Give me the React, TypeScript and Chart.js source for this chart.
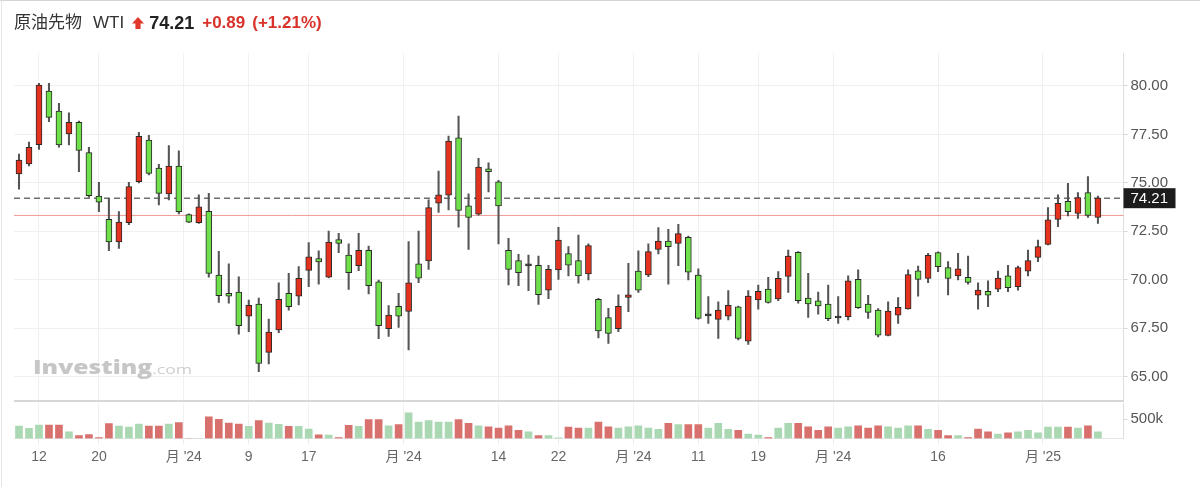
import React, { useEffect, useRef } from "react";
import { Chart, registerables } from "chart.js";

Chart.register(...registerables);

const FONT = '"Liberation Sans", "Noto Sans CJK JP", Arial, sans-serif';

// ---- data (daily WTI candles, oldest first) ----
const opens = [
  75.46, 75.98, 76.97, 79.74, 78.71, 77.52, 78.13, 76.56, 74.32, 73.12,
  71.95, 72.95, 75.06, 77.21, 75.77, 74.43, 75.87, 73.36, 72.95, 73.53,
  70.25, 69.3, 69.37, 68.13, 68.75, 66.26, 67.41, 69.3, 69.16, 70.49,
  71.09, 70.14, 72.07, 71.28, 70.73, 71.52, 69.89, 67.48, 68.63, 68.37,
  70.82, 70.97, 73.95, 74.36, 77.33, 73.81, 73.38, 75.72, 75.05, 71.52,
  70.99, 70.74, 70.75, 69.47, 70.51, 71.35, 70.99, 70.3, 68.99, 68.05,
  67.48, 69.09, 70.45, 70.25, 71.57, 72.0, 71.88, 72.19, 70.25, 68.15,
  67.96, 68.13, 68.61, 66.84, 68.96, 69.52, 69.01, 70.18, 71.42, 69.06,
  68.92, 68.75, 68.03, 68.1, 70.02, 68.75, 68.44, 67.13, 68.18, 68.5,
  70.46, 70.07, 71.4, 70.63, 70.2, 70.13, 69.21, 69.4, 69.52, 70.2,
  69.65, 70.45, 71.16, 71.83, 73.12, 74.05, 73.43, 74.5, 73.22,
];
const highs = [
  76.49, 77.11, 80.14, 80.14, 79.11, 78.62, 78.19, 76.84, 75.03, 74.2,
  73.52, 75.03, 77.61, 77.45, 75.96, 76.92, 76.65, 73.4, 74.39, 74.46,
  71.47, 70.82, 70.16, 68.96, 69.06, 67.98, 69.85, 70.33, 70.68, 71.92,
  71.49, 72.52, 72.4, 71.85, 72.4, 71.74, 69.99, 68.67, 69.3, 71.97,
  72.52, 74.12, 75.61, 77.42, 78.45, 74.43, 76.27, 76.04, 75.13, 72.14,
  71.31, 71.28, 71.23, 70.75, 72.71, 71.71, 72.31, 71.85, 69.05, 68.53,
  69.22, 70.85, 71.5, 71.85, 72.69, 72.6, 72.86, 72.26, 70.56, 69.13,
  68.87, 69.44, 68.65, 69.44, 69.73, 70.13, 70.42, 71.54, 71.45, 70.33,
  69.37, 69.73, 69.13, 70.2, 70.51, 69.2, 68.51, 68.87, 69.08, 70.51,
  70.71, 71.37, 71.44, 70.94, 71.37, 71.23, 69.85, 69.95, 70.45, 70.75,
  70.71, 71.54, 72.05, 73.72, 74.38, 74.98, 74.5, 75.32, 74.32,
];
const lows = [
  74.67, 75.87, 76.73, 78.16, 76.84, 76.96, 75.58, 74.26, 73.52, 71.5,
  71.62, 72.84, 75.0, 75.41, 73.86, 74.12, 73.4, 72.95, 72.91, 70.13,
  68.84, 68.79, 67.2, 67.32, 65.26, 65.66, 67.27, 68.44, 68.7, 69.65,
  69.77, 70.1, 71.4, 69.51, 70.47, 69.27, 66.96, 67.08, 67.55, 66.38,
  69.85, 70.54, 73.48, 73.6, 72.71, 71.57, 73.34, 74.53, 71.85, 69.73,
  69.7, 69.44, 68.73, 69.03, 70.02, 70.2, 69.83, 69.99, 67.0, 66.72,
  67.32, 68.36, 69.35, 70.16, 71.33, 69.77, 70.73, 69.99, 67.97, 67.75,
  66.98, 67.93, 66.9, 66.67, 68.48, 68.79, 68.92, 69.35, 68.79, 68.06,
  68.23, 67.89, 67.75, 67.93, 68.53, 68.01, 67.06, 67.1, 67.75, 68.49,
  69.16, 69.85, 70.42, 69.22, 69.99, 69.78, 68.48, 68.61, 69.39, 69.39,
  69.47, 70.2, 70.93, 71.8, 72.74, 73.29, 73.17, 73.22, 72.91,
];
const closes = [
  76.18, 76.84, 80.05, 78.38, 76.96, 78.13, 76.68, 74.34, 74.01, 71.95,
  72.98, 74.81, 77.4, 75.49, 74.46, 75.87, 73.52, 72.97, 73.77, 70.33,
  69.18, 69.16, 67.63, 68.68, 65.69, 67.31, 68.99, 68.61, 70.08, 71.18,
  70.92, 71.95, 71.88, 70.37, 71.52, 69.7, 67.63, 68.18, 68.13, 69.84,
  70.08, 73.72, 74.38, 77.16, 73.58, 73.22, 75.82, 75.58, 73.81, 70.54,
  70.37, 70.72, 69.23, 70.54, 72.05, 70.75, 70.2, 71.76, 67.36, 67.24,
  68.63, 69.23, 69.46, 71.45, 72.0, 71.71, 72.38, 70.39, 68.01, 68.14,
  68.44, 68.68, 66.98, 69.16, 69.4, 68.84, 70.08, 71.23, 68.92, 68.75,
  68.65, 67.99, 68.04, 69.95, 68.56, 68.32, 67.15, 68.39, 68.58, 70.27,
  70.02, 71.26, 70.68, 70.07, 70.56, 69.87, 69.47, 69.21, 70.09, 69.59,
  70.63, 70.99, 71.71, 73.09, 73.95, 73.52, 74.24, 73.32, 74.21,
];
// volume in thousands of contracts
const volumes = [
  324, 263, 351, 351, 351, 175, 79, 105, 26, 386,
  324, 298, 377, 324, 324, 377, 412, 0, 0, 561,
  500, 403, 377, 316, 465, 403, 368, 316, 316, 246,
  96, 88, 26, 342, 316, 491, 491, 333, 360, 667,
  430, 465, 430, 430, 491, 395, 333, 307, 272, 333,
  210, 175, 79, 79, 18, 298, 272, 272, 430, 307,
  272, 307, 333, 272, 237, 395, 360, 360, 360, 272,
  395, 237, 210, 114, 92, 26, 272, 395, 395, 307,
  210, 307, 272, 307, 333, 272, 333, 307, 272, 333,
  333, 237, 210, 79, 79, 26, 246, 175, 114, 149,
  175, 210, 149, 298, 298, 298, 272, 333, 175,
];

// x-axis tick positions (candle index) and labels
const xTickIdx = [2, 8, 16.5, 23, 29, 38.5, 48, 54, 61.5, 68, 74, 81.5, 92, 102.5];
const xTickLabels = ["12", "20", "月 '24", "9", "17", "月 '24", "14", "22", "月 '24", "11", "19", "月 '24", "16", "月 '25"];
const priceTicks = [65, 67.5, 70, 72.5, 75, 77.5, 80];
const volumeTicks = [500];

const TITLE = "原油先物 WTI";

// ---- layout constants ----
const X_MIN = -0.5;
const X_MAX = 110.56;
const AXIS_W = 76.5;
const UP = "#e5321f";
const DOWN = "#70df4c";
const DOJI = "#333333";
const VOL_UP = "#aad8b2";
const VOL_DOWN = "#d8716d";

const lastClose = closes[closes.length - 1];
const prevClose = closes[closes.length - 2];
const change = lastClose - prevClose;
const changePct = (change / prevClose) * 100;

function bodyColor(i: number) {
  const d = closes[i] - opens[i];
  if (Math.abs(d) < 0.03) return DOJI;
  return d > 0 ? UP : DOWN;
}
function volColor(i: number) {
  if (i === 0) return closes[0] >= opens[0] ? VOL_UP : VOL_DOWN;
  return closes[i] >= closes[i - 1] ? VOL_UP : VOL_DOWN;
}

const zeroPad = (s: any) => {
  s.paddingTop = 0;
  s.paddingBottom = 0;
  s.paddingLeft = 0;
  s.paddingRight = 0;
};

const lastPricePlugin = {
  id: "lastPriceTag",
  afterDraw(chart: any) {
    const y = chart.scales.y.getPixelForValue(lastClose);
    const x0 = chart.chartArea.right;
    const ctx = chart.ctx;
    ctx.save();
    ctx.fillStyle = "#1c1c1c";
    ctx.fillRect(x0, y - 10, 52, 20);
    ctx.fillStyle = "#ffffff";
    ctx.font = `15px ${FONT}`;
    ctx.textBaseline = "middle";
    ctx.textAlign = "left";
    ctx.fillText(lastClose.toFixed(2), x0 + 7, y + 1);
    ctx.restore();
  },
};

export default function App() {
  const priceRef = useRef<HTMLCanvasElement | null>(null);
  const volRef = useRef<HTMLCanvasElement | null>(null);

  useEffect(() => {
    const idx = opens.map((_, i) => i);
    const priceChart = new Chart(priceRef.current as HTMLCanvasElement, {
      type: "bar",
      data: {
        datasets: [
          {
            type: "bar",
            label: "body",
            data: idx.map((i) => ({ x: i, y: [opens[i], closes[i]] })) as any,
            backgroundColor: idx.map(bodyColor),
            borderColor: "#2a2a2a",
            borderWidth: 1,
            borderSkipped: false,
            barThickness: 6,
            grouped: false,
            minBarLength: 2,
            order: 0,
          } as any,
          {
            type: "bar",
            label: "wick",
            data: idx.map((i) => ({ x: i, y: [lows[i], highs[i]] })) as any,
            backgroundColor: "#555555",
            borderWidth: 0,
            barThickness: 1.4,
            grouped: false,
            order: 1,
          } as any,
          {
            type: "line",
            label: "last",
            data: [
              { x: X_MIN, y: lastClose },
              { x: X_MAX, y: lastClose },
            ],
            borderColor: "#6e6e6e",
            borderWidth: 1.5,
            borderDash: [6, 4],
            pointRadius: 0,
            order: 2,
          } as any,
          {
            type: "line",
            label: "prev",
            data: [
              { x: X_MIN, y: prevClose },
              { x: X_MAX, y: prevClose },
            ],
            borderColor: "#f09a9a",
            borderWidth: 1,
            pointRadius: 0,
            order: 3,
          } as any,
        ],
      },
      options: {
        responsive: false,
        animation: false,
        events: [],
        layout: { autoPadding: false, padding: { left: 14, top: 53, right: 0, bottom: 0 } },
        plugins: { legend: { display: false }, tooltip: { enabled: false } },
        scales: {
          x: {
            type: "linear",
            min: X_MIN,
            max: X_MAX,
            offset: false,
            grid: { color: "#f0f0f0", drawTicks: false, offset: false },
            border: { display: false },
            ticks: { display: false },
            afterBuildTicks: (s: any) => {
              s.ticks = xTickIdx.map((v) => ({ value: v }));
            },
            afterFit: (s: any) => {
              s.height = 0;
              zeroPad(s);
            },
          },
          y: {
            position: "right",
            min: 63.8,
            max: 81.7,
            grid: { color: "#f0f0f0", tickLength: 4, tickColor: "#d6d6d6" },
            border: { display: true, color: "#dedede" },
            ticks: {
              color: "#555555",
              font: { family: FONT, size: 15 },
              padding: 3,
              callback: (v: any) => Number(v).toFixed(2),
            },
            afterBuildTicks: (s: any) => {
              s.ticks = priceTicks.map((v) => ({ value: v }));
            },
            afterFit: (s: any) => {
              s.width = AXIS_W;
              zeroPad(s);
            },
          },
        } as any,
      },
      plugins: [lastPricePlugin],
    });

    const volChart = new Chart(volRef.current as HTMLCanvasElement, {
      type: "bar",
      data: {
        datasets: [
          {
            label: "volume",
            data: idx.map((i) => ({ x: i, y: volumes[i] })) as any,
            backgroundColor: idx.map(volColor),
            borderWidth: 0,
            barThickness: 7,
          } as any,
        ],
      },
      options: {
        responsive: false,
        animation: false,
        events: [],
        layout: { autoPadding: false, padding: { left: 14, top: 8, right: 0, bottom: 0 } },
        plugins: { legend: { display: false }, tooltip: { enabled: false } },
        scales: {
          x: {
            type: "linear",
            min: X_MIN,
            max: X_MAX,
            offset: false,
            grid: { color: "#f0f0f0", tickLength: 6, tickColor: "#ececec", offset: false },
            border: { display: true, color: "#e6e6e6" },
            ticks: {
              color: "#666666",
              font: { family: FONT, size: 14 },
              padding: 4,
              autoSkip: false,
              maxRotation: 0,
              minRotation: 0,
              callback: (v: any) => {
                const k = xTickIdx.indexOf(Number(v));
                return k >= 0 ? xTickLabels[k] : "";
              },
            },
            afterBuildTicks: (s: any) => {
              s.ticks = xTickIdx.map((v) => ({ value: v }));
            },
            afterFit: (s: any) => {
              s.height = 48.5;
              zeroPad(s);
            },
          },
          y: {
            position: "right",
            min: 0,
            max: 924,
            grid: { drawOnChartArea: false, tickLength: 4, tickColor: "#d6d6d6" },
            border: { display: true, color: "#dedede" },
            ticks: {
              color: "#555555",
              font: { family: FONT, size: 15 },
              padding: 3,
              callback: (v: any) => `${v}k`,
            },
            afterBuildTicks: (s: any) => {
              s.ticks = volumeTicks.map((v) => ({ value: v }));
            },
            afterFit: (s: any) => {
              s.width = AXIS_W;
              zeroPad(s);
            },
          },
        } as any,
      },
    });

    return () => {
      priceChart.destroy();
      volChart.destroy();
    };
  }, []);

  const red = "#d8322a";
  return (
    <div
      style={{
        position: "relative",
        width: 1200,
        height: 487,
        overflow: "hidden",
        background: "#ffffff",
        fontFamily: FONT,
      }}
    >
      <style>{`body{margin:0;background:#fff;}`}</style>
      <canvas
        ref={priceRef}
        width={1200}
        height={400}
        style={{ position: "absolute", left: 0, top: 0, width: 1200, height: 400 }}
      />
      <canvas
        ref={volRef}
        width={1200}
        height={92}
        style={{ position: "absolute", left: 0, top: 395, width: 1200, height: 92 }}
      />
      <div style={{ position: "absolute", left: 14, top: 400, width: 1109.5, height: 2, background: "#d6d6d6" }} />
      <div style={{ position: "absolute", left: 0, top: 0, width: 1200, height: 1, background: "#d4d4d4" }} />
      <div style={{ position: "absolute", left: 1, top: 0, width: 1, height: 487, background: "#e6e6e6" }} />

      <div
        style={{
          position: "absolute",
          left: 14,
          top: 11,
          display: "flex",
          alignItems: "center",
          whiteSpace: "nowrap",
          fontSize: 17,
          lineHeight: "24px",
          color: "#333333",
        }}
      >
        <span>{TITLE.split(" ")[0]}</span>
        <span style={{ marginLeft: 11 }}>{TITLE.split(" ")[1]}</span>
        <svg width="12" height="12" viewBox="0 0 12 12" style={{ marginLeft: 8, marginRight: 5 }}>
          <polygon points="6,0 12,6.5 8.6,6.5 8.6,12 3.4,12 3.4,6.5 0,6.5" fill="#e0392b" />
        </svg>
        <span style={{ fontWeight: 700, color: "#222222", fontSize: 18 }}>{lastClose.toFixed(2)}</span>
        <span style={{ color: red, fontWeight: 600, marginLeft: 8 }}>
          {(change >= 0 ? "+" : "") + change.toFixed(2)}
        </span>
        <span style={{ color: red, fontWeight: 600, marginLeft: 7 }}>
          {"(" + (changePct >= 0 ? "+" : "") + changePct.toFixed(2) + "%)"}
        </span>
      </div>

      <div
        style={{
          position: "absolute",
          left: 33,
          top: 355,
          lineHeight: "24px",
          whiteSpace: "nowrap",
          transform: "scaleX(1.3)",
          transformOrigin: "left top",
          color: "#c6c6c6",
          fontFamily: '"Open Sans", "Liberation Sans", sans-serif',
        }}
      >
        <span style={{ fontWeight: 800, fontSize: 19 }}>Investing</span>
        <span style={{ fontSize: 13.5, color: "#cfcfcf" }}>.com</span>
      </div>
    </div>
  );
}
